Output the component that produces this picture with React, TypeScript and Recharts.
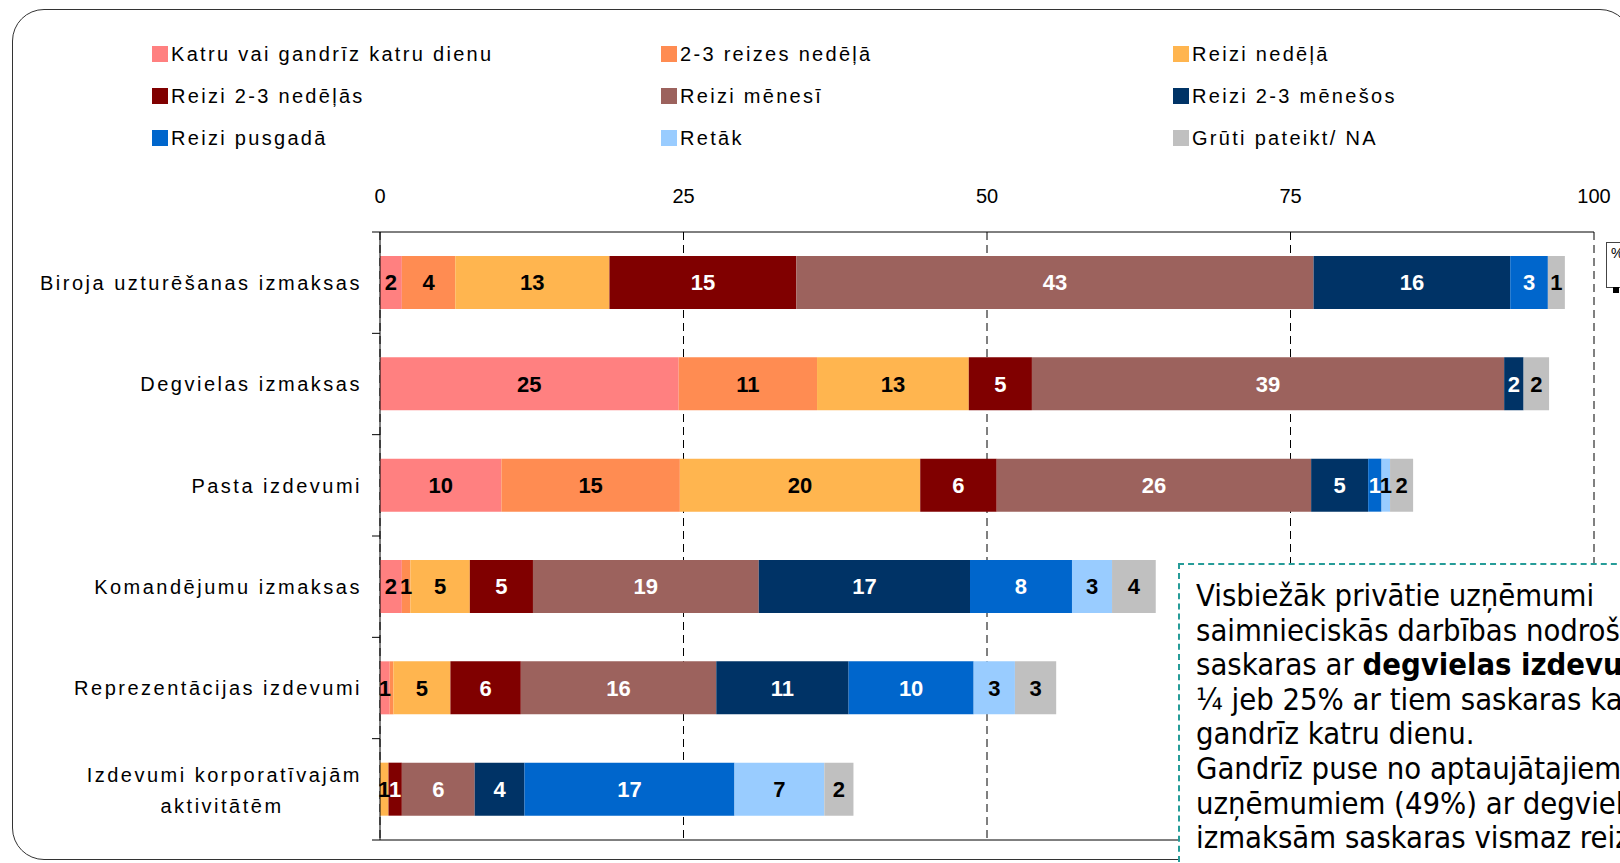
import { BarChart, Bar, XAxis, YAxis, CartesianGrid, LabelList } from "recharts"

const categories = [
  "Biroja uzturēšanas izmaksas",
  "Degvielas izmaksas",
  "Pasta izdevumi",
  "Komandējumu izmaksas",
  "Reprezentācijas izdevumi",
  "Izdevumi korporatīvajām aktivitātēm",
]

// values (labels are the rounded figures)
const daily = [1.8, 24.6, 10.0, 1.8, 0.8, 0]
const twoThreePerWeek = [4.4, 11.4, 14.7, 0.7, 0.3, 0]
const weekly = [12.7, 12.5, 19.8, 4.9, 4.7, 0.7]
const every23Weeks = [15.4, 5.2, 6.3, 5.2, 5.8, 1.1]
const monthly = [42.6, 38.9, 25.9, 18.6, 16.1, 6.0]
const every23Months = [16.2, 1.6, 4.7, 17.4, 10.9, 4.1]
const halfYear = [3.1, 0, 1.1, 8.4, 10.3, 17.3]
const rarer = [0, 0, 0.7, 3.3, 3.4, 7.4]
const hardToSay = [1.4, 2.1, 1.9, 3.6, 3.4, 2.4]

const seriesNames = [
  "Katru vai gandrīz katru dienu",
  "2-3 reizes nedēļā",
  "Reizi nedēļā",
  "Reizi 2-3 nedēļās",
  "Reizi mēnesī",
  "Reizi 2-3 mēnešos",
  "Reizi pusgadā",
  "Retāk",
  "Grūti pateikt/ NA",
]

const xTicks = [0, 25, 50, 75, 100]

const seriesValues = [daily, twoThreePerWeek, weekly, every23Weeks, monthly, every23Months, halfYear, rarer, hardToSay]

const COLORS = ["#FF8080", "#FF8C52", "#FFB54F", "#800000", "#9C625D", "#003366", "#0066CC", "#99CCFF", "#C0C0C0"]
const LABEL_COLORS = ["#000", "#000", "#000", "#fff", "#fff", "#fff", "#fff", "#000", "#000"]

const data = categories.map((name, i) => {
  const row: any = { name }
  seriesValues.forEach((vals, s) => {
    row["s" + s] = vals[i]
  })
  return row
})

const W = 1620
const H = 863
const PLOT_TOP = 232
const PLOT_BOTTOM = 840
const BAND = (PLOT_BOTTOM - PLOT_TOP) / categories.length

const axisFont = "'Liberation Sans', Arial, sans-serif"
const narrowFont = "'Liberation Sans Narrow', 'Arial Narrow', 'Liberation Sans', sans-serif"

function wrap(s: string) {
  if (s.length <= 28) return [s]
  const i = s.lastIndexOf(" ")
  return [s.slice(0, i), s.slice(i + 1)]
}

function CategoryTick(props: any) {
  const { x, y, payload, index } = props
  const lines = wrap(payload.value)
  const textProps = { fontSize: 20, fontFamily: axisFont, fill: "#000", letterSpacing: 2.5 }
  return (
    <g>
      <line x1={x - 8} x2={x} y1={y + BAND / 2} y2={y + BAND / 2} stroke="#000" />
      {index === 0 && <line x1={x - 8} x2={x} y1={y - BAND / 2} y2={y - BAND / 2} stroke="#000" />}
      {lines.length === 1 ? (
        <text x={x - 18} y={y} dy="0.36em" textAnchor="end" {...textProps}>
          {lines[0]}
        </text>
      ) : (
        <>
          <text x={x - 18} y={y - 15} dy="0.36em" textAnchor="end" {...textProps}>
            {lines[0]}
          </text>
          <text x={x - 158} y={y + 16} dy="0.36em" textAnchor="middle" {...textProps}>
            {lines[1]}
          </text>
        </>
      )}
    </g>
  )
}

const roundLabel = (v: any) => {
  const r = Math.round(Number(v))
  return r > 0 ? String(r) : ""
}

const noteLines: any[] = [
  "Visbiežāk privātie uzņēmumi",
  "saimnieciskās darbības nodrošināšanai",
  <>
    saskaras ar <b>degvielas izdevumiem</b> –
  </>,
  "¼ jeb 25% ar tiem saskaras katru vai",
  "gandrīz katru dienu.",
  "Gandrīz puse no aptaujātajiem",
  "uzņēmumiem (49%) ar degvielas",
  "izmaksām saskaras vismaz reizi nedēļā.",
]

export default function App() {
  return (
    <div style={{ position: "fixed", left: 0, top: 0, width: W, height: H, overflow: "hidden", background: "#fff" }}>
      <div
        style={{
          position: "absolute",
          left: 12,
          top: 9,
          width: 1620,
          height: 851,
          border: "1.5px solid #333",
          borderRadius: 32,
          boxSizing: "border-box",
        }}
      />

      {seriesNames.map((name, i) => (
        <div
          key={name}
          style={{
            position: "absolute",
            left: [152, 661, 1173][i % 3],
            top: [54, 96, 138][Math.floor(i / 3)] - 12,
            height: 24,
            display: "flex",
            alignItems: "center",
            fontFamily: axisFont,
            fontSize: 20,
            letterSpacing: 2.3,
            whiteSpace: "nowrap",
          }}
        >
          <span style={{ width: 16, height: 16, background: COLORS[i], marginRight: 3, display: "inline-block" }} />
          {name}
        </div>
      ))}

      <div style={{ position: "absolute", left: 0, top: 0 }}>
        <BarChart
          width={W}
          height={H}
          data={data}
          layout="vertical"
          margin={{ top: 192, right: 26, bottom: 22, left: 0 }}
        >
          <CartesianGrid horizontal={false} stroke="#000" strokeDasharray="8 5" />
          <XAxis
            type="number"
            orientation="top"
            domain={[0, 100]}
            ticks={xTicks}
            height={40}
            tickSize={0}
            tickMargin={29}
            tickLine={false}
            axisLine={{ stroke: "#000" }}
            tick={{ fontSize: 20, fill: "#000", fontFamily: axisFont }}
          />
          <XAxis
            xAxisId="bottom"
            type="number"
            orientation="bottom"
            domain={[0, 100]}
            height={1}
            tick={false}
            tickLine={false}
            axisLine={{ stroke: "#000" }}
          />
          <YAxis
            type="category"
            dataKey="name"
            width={380}
            tickSize={0}
            tickMargin={0}
            tickLine={false}
            axisLine={{ stroke: "#000" }}
            tick={<CategoryTick />}
            interval={0}
          />
          {seriesNames.map((name, i) => (
            <Bar
              key={name}
              dataKey={"s" + i}
              name={name}
              stackId="a"
              fill={COLORS[i]}
              barSize={53}
              isAnimationActive={false}
            >
              <LabelList
                dataKey={"s" + i}
                position="center"
                formatter={roundLabel}
                fill={LABEL_COLORS[i]}
                fontSize={22}
                fontWeight="bold"
                fontFamily={narrowFont}
              />
            </Bar>
          ))}
        </BarChart>
      </div>

      <div
        style={{
          position: "absolute",
          left: 1606,
          top: 242,
          width: 40,
          height: 46,
          border: "1px solid #444",
          background: "#fff",
          fontFamily: axisFont,
          fontSize: 14,
          lineHeight: "14px",
          padding: "3px 4px",
          boxSizing: "border-box",
        }}
      >
        %
      </div>
      <div style={{ position: "absolute", left: 1613, top: 287, width: 6, height: 6, background: "#000" }} />

      <div
        style={{
          position: "absolute",
          left: 1178,
          top: 563,
          width: 620,
          height: 400,
          border: "2px dashed #269C98",
          background: "#fff",
          boxSizing: "border-box",
          padding: "14px 0 0 16px",
          fontFamily: "'DejaVu Sans Condensed', 'DejaVu Sans', sans-serif",
          fontSize: 30.7,
          lineHeight: "34.6px",
          color: "#000",
        }}
      >
        {noteLines.map((l, i) => (
          <div key={i} style={{ whiteSpace: "nowrap" }}>
            {l}
          </div>
        ))}
      </div>
    </div>
  )
}
